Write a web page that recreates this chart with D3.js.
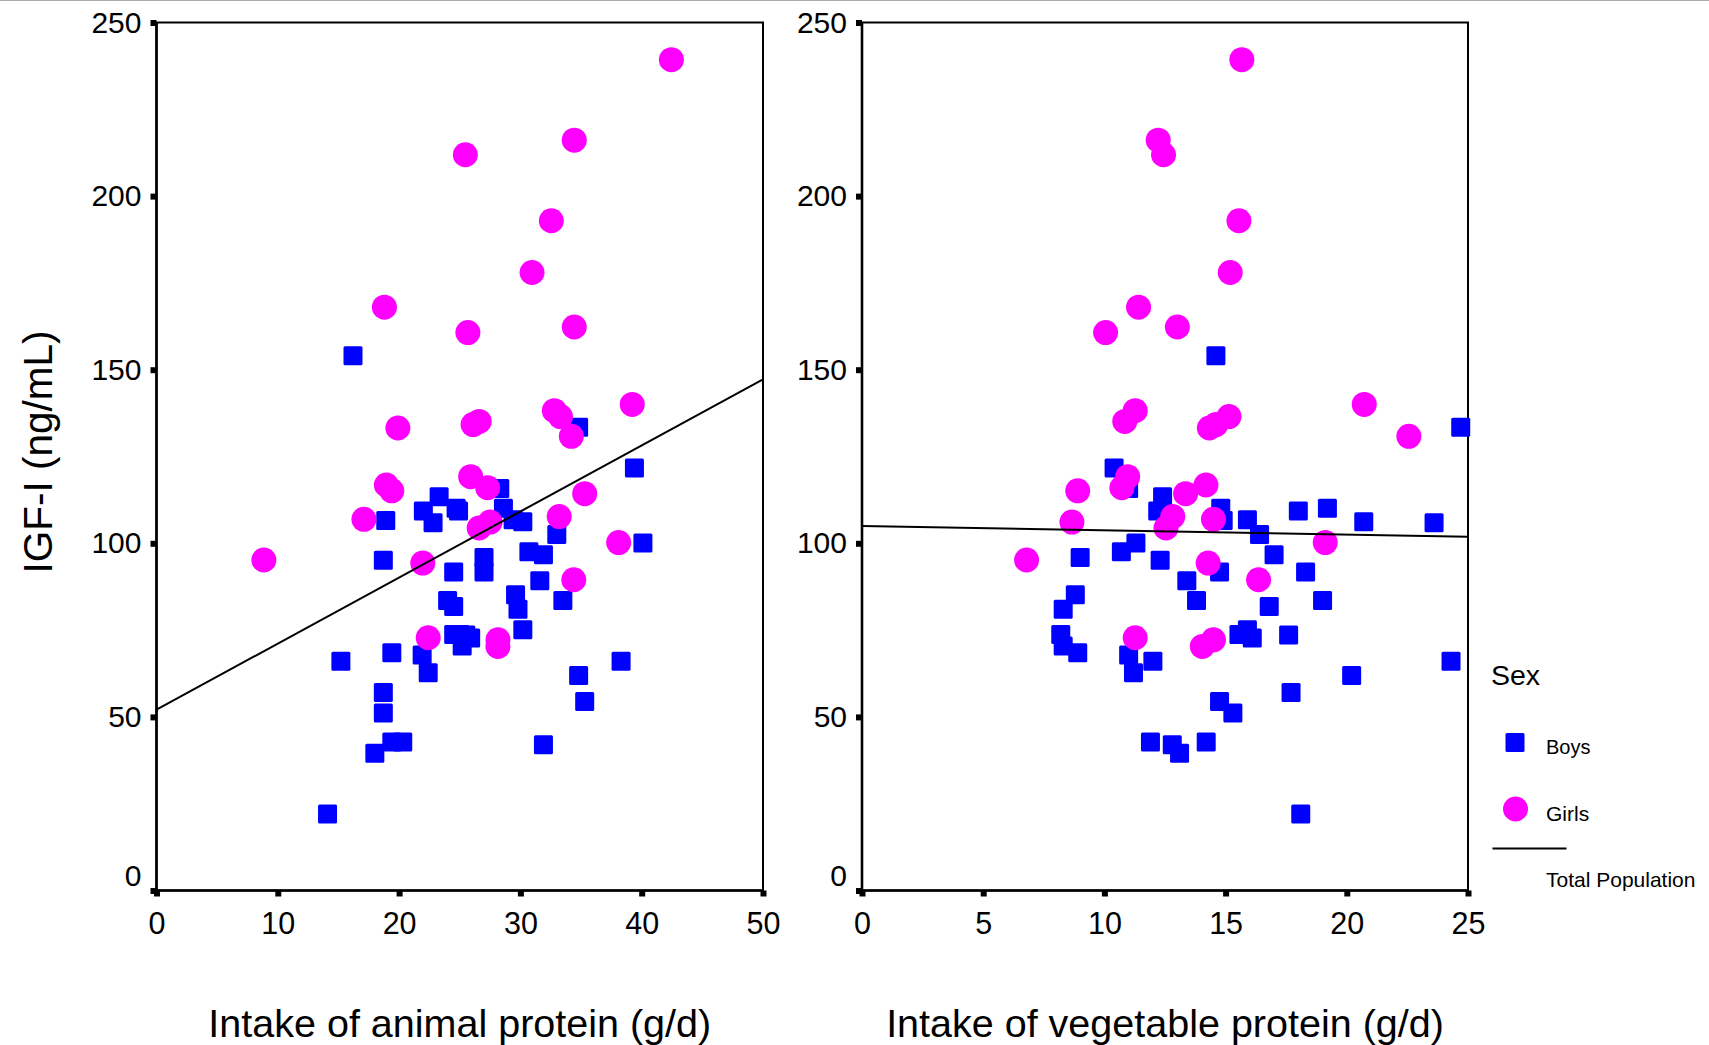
<!DOCTYPE html>
<html>
<head>
<meta charset="utf-8">
<script src="https://cdn.jsdelivr.net/npm/d3@7"></script>
<style>
  html, body { margin: 0; padding: 0; background: #fff; }
  svg { display: block; }
  text { font-family: "Liberation Sans", Arial, sans-serif; fill: #000; }
</style>
</head>
<body>
<script>
// ---------- DATA ----------
const yTicks = [0, 50, 100, 150, 200, 250];
const xTicksAnimal = [0, 10, 20, 30, 40, 50];
const xTicksVeg = [0, 5, 10, 15, 20, 25];

// Boys: IGF-I (ng/mL), animal protein (g/d), vegetable protein (g/d)
const boysIGF    = [154, 133.4, 121.7, 115.8, 113.4, 109.3, 110.1, 109.3, 110.1, 106.6, 105.9, 106.8, 106.2, 102.5, 100.1, 97.6, 96.7, 95.9, 95.1, 91.7, 91.7, 89.2, 85.2, 83.5, 83.5, 81.8, 81.0, 75.1, 73.7, 73.7, 73.6, 72.7, 70.4, 67.8, 68.5, 66.0, 66.0, 62.7, 61.9, 57.0, 54.4, 51.1, 42.8, 42.8, 42.0, 39.5, 22.0];
const boysAnimal = [16.2, 34.8, 39.4, 28.3, 23.3, 22.0, 24.7, 24.9, 28.6, 18.9, 22.8, 29.4, 30.2, 33.0, 40.1, 30.7, 31.9, 27.0, 18.7, 24.5, 27.0, 31.6, 29.6, 33.5, 24.0, 24.5, 29.8, 30.2, 24.5, 25.0, 25.5, 25.9, 25.2, 21.9, 19.4, 15.2, 38.3, 22.4, 34.8, 18.7, 35.3, 18.7, 19.4, 20.3, 31.9, 18.0, 14.1];
const boysVeg    = [14.6, 24.7, 10.4, 11.0, 12.4, 12.2, 14.8, 18.0, 19.2, 14.9, 23.6, 15.9, 20.7, 16.4, 11.3, 10.7, 17.0, 9.0, 12.3, 14.75, 18.3, 13.4, 8.8, 13.8, 19.0, 16.8, 8.3, 15.9, 8.2, 15.55, 17.6, 16.1, 8.3, 11.0, 8.9, 12.0, 24.3, 11.2, 20.2, 17.7, 14.75, 15.3, 11.9, 14.2, 12.8, 13.1, 18.1];

// Girls
const girlsIGF    = [239.3, 216.1, 211.9, 192.9, 178.0, 168.0, 160.7, 162.3, 140.0, 138.2, 136.5, 130.8, 133.2, 134.2, 135.1, 116.8, 115.1, 119.2, 116.0, 114.3, 107.7, 106.9, 106.1, 104.4, 100.2, 95.2, 94.3, 89.5, 72.8, 72.2, 70.3];
const girlsAnimal = [42.45, 34.44, 25.46, 32.55, 30.96, 18.79, 25.67, 34.44, 39.22, 32.8, 33.3, 34.2, 19.9, 26.1, 26.6, 18.95, 19.4, 25.9, 27.3, 35.3, 33.2, 17.1, 27.5, 26.6, 38.1, 8.85, 21.95, 34.4, 22.4, 28.15, 28.15];
const girlsVeg    = [15.67, 12.22, 12.44, 15.55, 15.19, 11.41, 10.05, 13.01, 20.72, 11.27, 15.14, 22.56, 14.33, 14.6, 10.84, 14.19, 8.9, 10.96, 10.72, 13.35, 12.82, 14.5, 8.66, 12.54, 19.11, 6.79, 14.28, 16.36, 11.27, 14.5, 14.04];

// Total population fit lines: [intercept, slope]
const fitAnimal = [52.1, 1.902];
const fitVeg = [105.0, -0.124];

// ---------- DRAWING ----------
const W = 1709, H = 1045;
const svg = d3.select("body").append("svg").attr("width", W).attr("height", H);

svg.append("line").attr("x1", 0).attr("x2", W).attr("y1", 0.5).attr("y2", 0.5)
   .attr("stroke", "#aaa").attr("stroke-width", 1);

const y = d3.scaleLinear().domain([0, 250]).range([890.5, 22.5]);

const panels = [
  { left: 156.5, right: 763, domain: [0, 50], ticks: xTicksAnimal, xs: [boysAnimal, girlsAnimal], fit: fitAnimal,
    title: "Intake of animal protein (g/d)" },
  { left: 862, right: 1468, domain: [0, 25], ticks: xTicksVeg, xs: [boysVeg, girlsVeg], fit: fitVeg,
    title: "Intake of vegetable protein (g/d)" }
];

panels.forEach(p => {
  const x = d3.scaleLinear().domain(p.domain).range([p.left, p.right]);
  const g = svg.append("g");

  // frame
  g.append("rect").attr("x", p.left).attr("y", y(250)).attr("width", p.right - p.left)
   .attr("height", y(0) - y(250)).attr("fill", "none").attr("stroke", "#000").attr("stroke-width", 2);
  // heavier axis lines (left & bottom)
  g.append("path").attr("d", `M${p.left},${y(250)}V${y(0)}H${p.right}`)
   .attr("fill", "none").attr("stroke", "#000").attr("stroke-width", 2.6);

  // y axis
  const ya = g.append("g").attr("transform", `translate(${p.left},0)`)
    .call(d3.axisLeft(y).tickValues(yTicks).tickSize(6).tickPadding(9).tickFormat(d3.format("d")));
  ya.select(".domain").remove();
  ya.selectAll(".tick line").attr("stroke", "#000").attr("stroke-width", 6);
  ya.selectAll(".tick text").attr("font-size", 30).attr("font-family", "Liberation Sans, Arial, sans-serif")
    .attr("fill", "#000");
  ya.selectAll(".tick").filter(d => d === 0).select("text").attr("dy", "-0.18em");

  // x axis
  const xa = g.append("g").attr("transform", `translate(0,${y(0)})`)
    .call(d3.axisBottom(x).tickValues(p.ticks).tickSize(6).tickPadding(16).tickFormat(d3.format("d")));
  xa.select(".domain").remove();
  xa.selectAll(".tick line").attr("stroke", "#000").attr("stroke-width", 6);
  xa.selectAll(".tick text").attr("font-size", 30.5).attr("font-family", "Liberation Sans, Arial, sans-serif")
    .attr("fill", "#000");

  // boys squares
  const s = 19;
  g.append("g").selectAll("rect").data(d3.range(boysIGF.length)).join("rect")
    .attr("x", i => x(p.xs[0][i]) - s / 2).attr("y", i => y(boysIGF[i]) - s / 2)
    .attr("width", s).attr("height", s).attr("rx", 1.5).attr("fill", "#0000ff");

  // girls circles
  g.append("g").selectAll("circle").data(d3.range(girlsIGF.length)).join("circle")
    .attr("cx", i => x(p.xs[1][i])).attr("cy", i => y(girlsIGF[i])).attr("r", 12.5)
    .attr("fill", "#ff00ff");

  // fit line
  const [b0, b1] = p.fit;
  g.append("line")
    .attr("x1", x(p.domain[0])).attr("y1", y(b0 + b1 * p.domain[0]))
    .attr("x2", x(p.domain[1])).attr("y2", y(b0 + b1 * p.domain[1]))
    .attr("stroke", "#000").attr("stroke-width", 2);

  // x title
  g.append("text").attr("x", (p.left + p.right) / 2).attr("y", 1037).attr("text-anchor", "middle")
    .attr("font-size", 39.5).text(p.title);
});

// y title
svg.append("text").attr("transform", "translate(52,452) rotate(-90)").attr("text-anchor", "middle")
  .attr("font-size", 40.5).text("IGF-I (ng/mL)");

// legend
const lg = svg.append("g");
lg.append("text").attr("x", 1491).attr("y", 685).attr("font-size", 28.5).text("Sex");
lg.append("rect").attr("x", 1515 - 9.5).attr("y", 742.5 - 9.5).attr("width", 19).attr("height", 19)
  .attr("rx", 1.5).attr("fill", "#0000ff");
lg.append("text").attr("x", 1546).attr("y", 754).attr("font-size", 20).text("Boys");
lg.append("circle").attr("cx", 1515.5).attr("cy", 809).attr("r", 12.5).attr("fill", "#ff00ff");
lg.append("text").attr("x", 1546).attr("y", 821).attr("font-size", 21).text("Girls");
lg.append("line").attr("x1", 1492.5).attr("x2", 1566.5).attr("y1", 848.5).attr("y2", 848.5)
  .attr("stroke", "#000").attr("stroke-width", 2);
lg.append("text").attr("x", 1546).attr("y", 887).attr("font-size", 21).text("Total Population");
</script>
</body>
</html>
